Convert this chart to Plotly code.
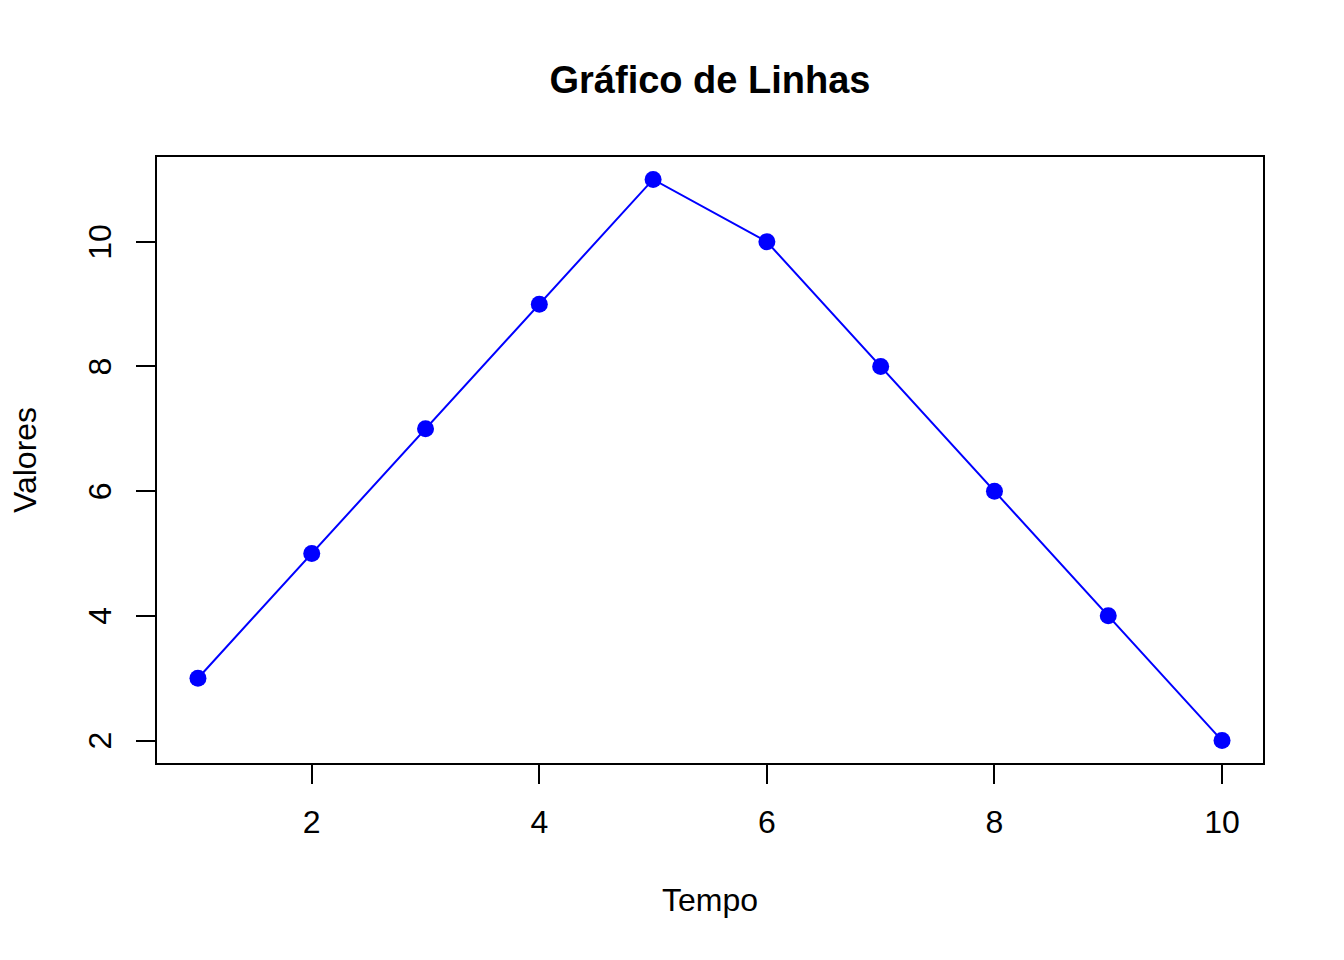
import plotly.graph_objects as go

tempo = [1, 2, 3, 4, 5, 6, 7, 8, 9, 10]
valores = [3, 5, 7, 9, 11, 10, 8, 6, 4, 2]
x_ticks = [2, 4, 6, 8, 10]
y_ticks = [2, 4, 6, 8, 10]

FONT = "Liberation Sans, Arial, Helvetica, sans-serif"
OFF = 8  # page body margin compensation

fig = go.Figure()
fig.add_trace(go.Scatter(
    x=tempo, y=valores, mode="lines+markers",
    line=dict(color="#0000FF", width=2),
    marker=dict(color="#0000FF", size=17),
    showlegend=False,
))

axis_common = dict(
    showgrid=False, zeroline=False,
    showline=True, linecolor="black", linewidth=2, mirror=True,
    ticks="outside", ticklen=19, tickwidth=2, tickcolor="black",
    tickfont=dict(family=FONT, size=32, color="black"),
)

annotations = [
    dict(text="Tempo", xref="paper", yref="paper", x=0.5, y=(763 - 900) / 606,
         xanchor="center", yanchor="middle", showarrow=False,
         font=dict(family=FONT, size=32, color="black")),
    dict(text="Valores", xref="paper", yref="paper", x=(25 - 157) / 1106, y=0.5,
         xanchor="center", yanchor="middle", textangle=-90, showarrow=False,
         font=dict(family=FONT, size=32, color="black")),
]
for v in y_ticks:
    annotations.append(dict(
        text=str(v), xref="paper", yref="y", x=(100 - 157) / 1106, y=v,
        xanchor="center", yanchor="middle", textangle=-90, showarrow=False,
        font=dict(family=FONT, size=32, color="black")))

fig.update_layout(
    width=1344, height=960,
    paper_bgcolor="white", plot_bgcolor="white",
    margin=dict(l=157 - OFF, r=81 + OFF, t=157 - OFF, b=197 + OFF, autoexpand=False),
    title=dict(text="<b>Gráfico de Linhas</b>", x=0.5, xref="paper", xanchor="center",
               y=1 - (80 - OFF) / 960, yref="container", yanchor="middle",
               font=dict(family=FONT, size=38, color="black")),
    xaxis=dict(range=[0.64, 10.36], tickvals=x_ticks, ticktext=[str(v) for v in x_ticks],
               ticklabelstandoff=11, **axis_common),
    yaxis=dict(range=[1.64, 11.36], tickvals=y_ticks, showticklabels=False, **axis_common),
    annotations=annotations,
)

fig.write_html("out.html")
